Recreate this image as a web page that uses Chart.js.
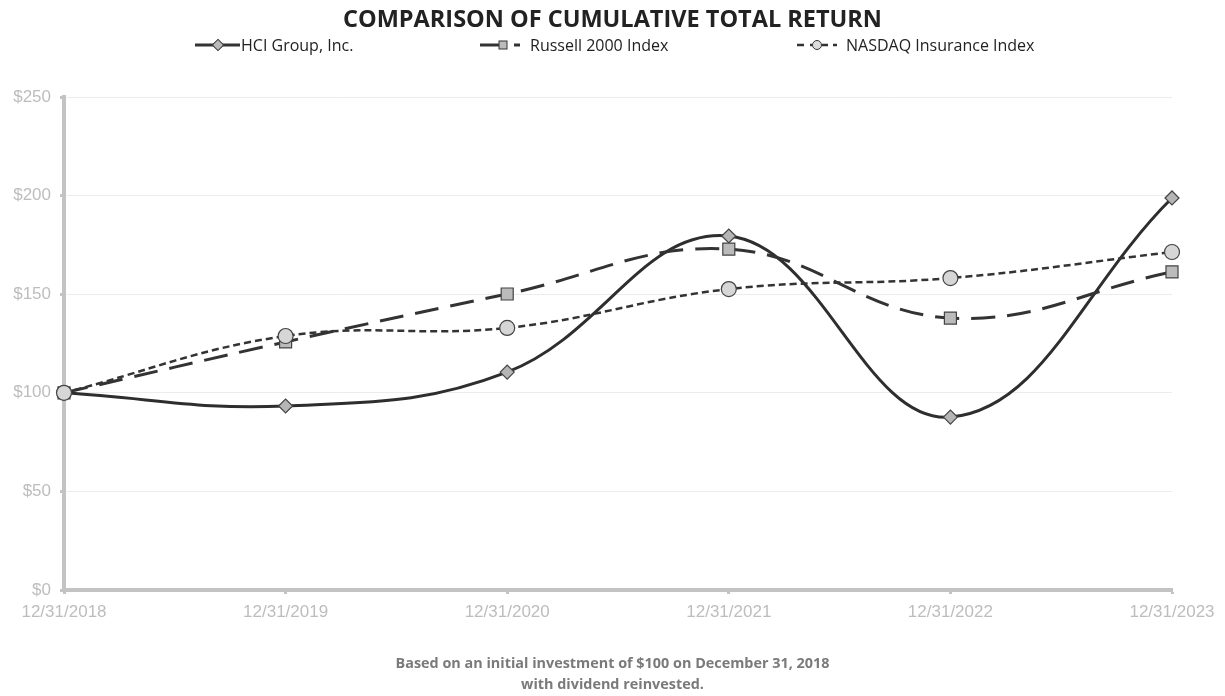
<!DOCTYPE html>
<html><head><meta charset="utf-8">
<script src="https://cdn.jsdelivr.net/npm/chart.js@4"></script>
<style>
html,body{margin:0;padding:0;background:#fff;width:1225px;height:696px;overflow:hidden;font-family:"Open Sans",sans-serif;}
#wrap{position:absolute;left:0;top:0;width:1225px;height:696px;}
#title{position:absolute;left:0;width:1225px;top:2px;text-align:center;font-weight:bold;font-size:23.5px;line-height:32px;color:#222;}
#legend{position:absolute;top:34px;left:0;width:1225px;height:22px;}
.li{position:absolute;top:0;height:22px;display:flex;align-items:center;font-size:16px;color:#222;white-space:nowrap;}
#foot{position:absolute;left:0;width:1225px;top:652px;text-align:center;font-weight:bold;font-size:14.4px;color:#7a7a7a;line-height:21px;}
</style></head>
<body><div id="wrap">
<canvas id="c" width="1225" height="696"></canvas>
<div id="title">COMPARISON OF CUMULATIVE TOTAL RETURN</div>
<div id="legend">
 <div class="li" style="left:195px"><svg width="46" height="22"><line x1="0" y1="11" x2="45" y2="11" stroke="#333" stroke-width="3"/><rect x="19" y="7" width="8" height="8" transform="rotate(45 23 11)" fill="#bbb" stroke="#333" stroke-width="1"/></svg>HCI Group, Inc.</div>
 <div class="li" style="left:480px"><svg width="50" height="22"><line x1="0" y1="11" x2="19" y2="11" stroke="#333" stroke-width="3"/><rect x="19" y="7" width="8" height="8" fill="#bbb" stroke="#333" stroke-width="1"/><line x1="34" y1="11" x2="40" y2="11" stroke="#333" stroke-width="3"/></svg>Russell 2000 Index</div>
 <div class="li" style="left:797px"><svg width="49" height="22"><line x1="0" y1="11" x2="7" y2="11" stroke="#333" stroke-width="2.5"/><line x1="13" y1="11" x2="15" y2="11" stroke="#333" stroke-width="2.5"/><circle cx="20" cy="11" r="4.5" fill="#ddd" stroke="#333" stroke-width="1"/><line x1="25" y1="11" x2="31" y2="11" stroke="#333" stroke-width="2.5"/><line x1="36" y1="11" x2="40" y2="11" stroke="#333" stroke-width="2.5"/></svg>NASDAQ Insurance Index</div>
</div>
<div id="foot">Based on an initial investment of $100 on December 31, 2018<br>with dividend reinvested.</div>
</div>
<script>
const categories = ["12/31/2018","12/31/2019","12/31/2020","12/31/2021","12/31/2022","12/31/2023"];
const hciValues = [100, 93.3, 110.5, 179.5, 87.7, 198.8];
const russellValues = [100, 125.8, 150.1, 172.9, 137.9, 161.3];
const nasdaqInsValues = [100, 128.8, 132.9, 152.6, 158.2, 171.4];
const seriesNames = ["HCI Group, Inc.", "Russell 2000 Index", "NASDAQ Insurance Index"];
const yTickValues = [0, 50, 100, 150, 200, 250];

const axisGray = '#c3c3c3';
const tickFont = {family:'"Liberation Sans", Arial, sans-serif', size:17};

new Chart(document.getElementById('c'), {
  type:'line',
  data:{
    labels:categories,
    datasets:[
      {label:seriesNames[2], data:nasdaqInsValues, borderColor:'#333', borderWidth:2.5, borderDash:[7,4],
       pointStyle:'circle', pointRadius:7.5, pointBackgroundColor:'#d6d6d6', pointBorderColor:'#444', pointBorderWidth:1.2, tension:0.4, fill:false, clip:false},
      {label:seriesNames[1], data:russellValues, borderColor:'#333', borderWidth:3, borderDash:[24,12],
       pointStyle:'rect', pointRadius:8.5, pointBackgroundColor:'#bbb', pointBorderColor:'#444', pointBorderWidth:1.2, tension:0.4, fill:false, clip:false},
      {label:seriesNames[0], data:hciValues, borderColor:'#2e2e2e', borderWidth:3,
       pointStyle:'rectRot', pointRadius:7, pointBackgroundColor:'#b5b5b5', pointBorderColor:'#444', pointBorderWidth:1.2, tension:0.4, fill:false, clip:false}
    ]
  },
  options:{
    responsive:false, animation:false, devicePixelRatio:1,
    layout:{padding:{left:0, top:97, right:53, bottom:0}},
    plugins:{legend:{display:false}, tooltip:{enabled:false}, title:{display:false}},
    scales:{
      x:{
        offset:false,
        grid:{drawOnChartArea:false, drawTicks:true, tickLength:4, tickColor:axisGray, tickWidth:3},
        border:{display:true, color:axisGray, width:4},
        ticks:{color:'#bdbdbd', font:tickFont, padding:8, maxRotation:0, autoSkip:false},
        afterFit:s=>{s.height=106;}
      },
      y:{
        min:0, max:250,
        afterBuildTicks:s=>{s.ticks=yTickValues.map(v=>({value:v}));},
        grid:{color:'#ececec', lineWidth:1, drawTicks:true, tickLength:4, tickColor:axisGray, tickWidth:3},
        border:{display:true, color:axisGray, width:4},
        ticks:{color:'#bdbdbd', font:tickFont, padding:9, callback:v=>'$'+v},
        afterFit:s=>{s.width=64;}
      }
    }
  }
});
</script>
</body></html>
